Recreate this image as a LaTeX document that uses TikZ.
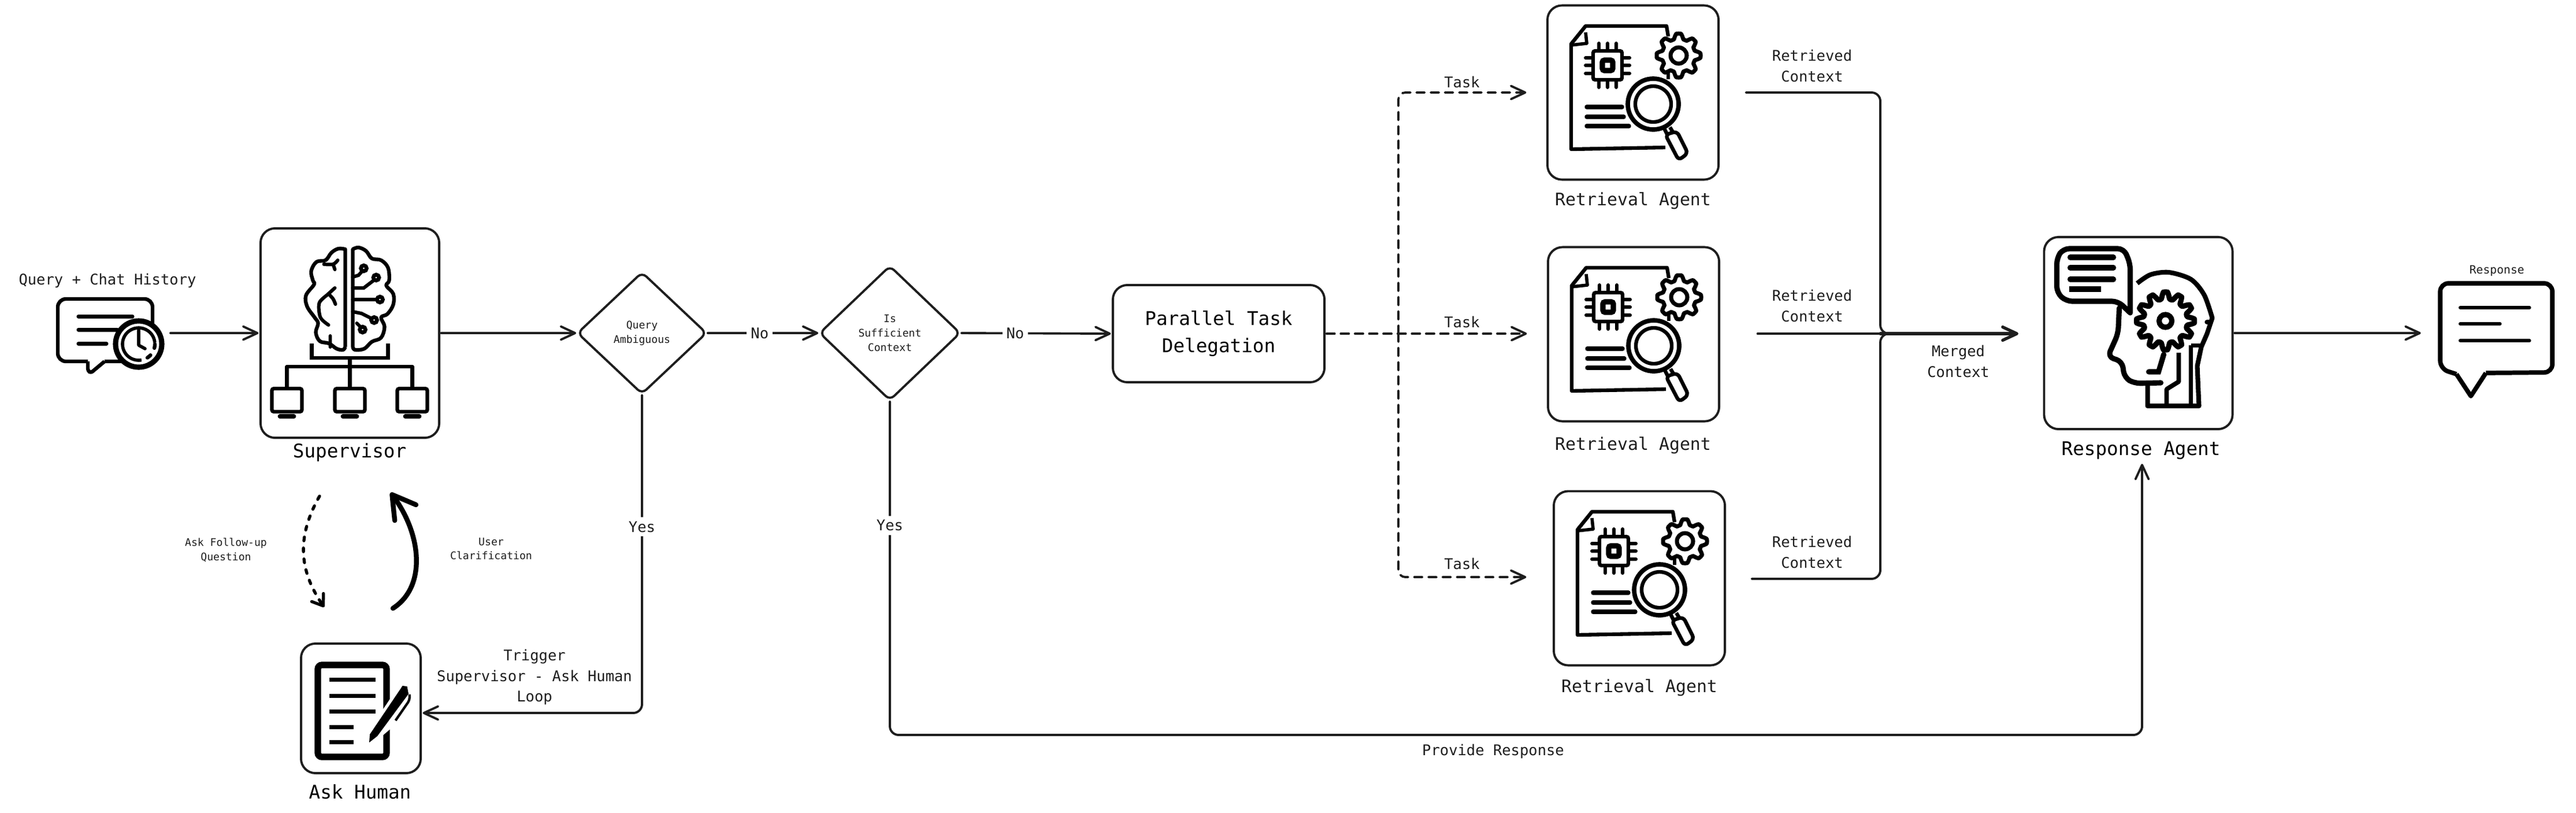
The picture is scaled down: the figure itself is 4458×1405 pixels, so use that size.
\documentclass[tikz,border=0pt]{standalone}
\usepackage{fontspec}
\setmainfont{DejaVu Sans Mono}
\usepackage{tikz}
\usetikzlibrary{arrows.meta,calc,positioning,shapes.geometric}
\usepackage{xcolor}
\definecolor{inkgray}{HTML}{1E1E1E}

\tikzset{
    iconbox/.style={draw=inkgray,line width=1.1pt,rounded corners=0.25cm,inner sep=0pt,outer sep=1pt},
    hiddenbox/.style={inner sep=0pt,outer sep=0pt},
    decision/.style={diamond,draw=inkgray,line width=1.1pt,rounded corners=0.1cm,inner sep=0pt,outer sep=0.5pt,align=center,text=inkgray,font=\fontsize{5.15}{7.1}\selectfont},
    flow/.style={draw=inkgray,line width=1.1pt,line cap=round,-{Straight Barb[round,length=7pt,width=6.5pt]}},
    taskflow/.style={flow,dash pattern=on 4pt off 3pt,rounded corners=0.12cm},
    plainline/.style={draw=inkgray,line width=1.1pt,line cap=round,rounded corners=0.15cm},
    flowlabel/.style={fill=white,inner sep=2pt,text=inkgray,font=\fontsize{7.25}{10}\selectfont},
    edgetext/.style={inner sep=0pt,align=center,text=inkgray,font=\fontsize{7.25}{10}\selectfont},
    smalltext/.style={inner sep=0pt,align=center,text=inkgray,font=\fontsize{5.15}{7.1}\selectfont},
    agentname/.style={inner sep=0pt,text=inkgray,font=\fontsize{8.5}{10}\selectfont},
    boxname/.style={inner sep=2pt,text=black,font=\fontsize{9.27}{11}\selectfont},
    pics/gearicon/.style n args={3}{code={
        \filldraw[fill=white,line join=round] plot[domain=0:360,samples=181] ({(#1)*(0.88+0.12*max(-1,min(1,1.5*cos(#2*\x))))*cos(\x)},{(#1)*(0.88+0.12*max(-1,min(1,1.5*cos(#2*\x))))*sin(\x)}) -- cycle;
        \draw (0,0) circle[radius=#3];
    }},
    pics/monitoricon/.style={code={
        \draw[line width=1.8pt,rounded corners=1pt] (-26,0) rectangle (26,40);
        \draw[line width=2.2pt,line cap=round] (-12,48) -- (12,48);
    }},
    pics/retrievalicon/.style={code={
        \draw[line width=1.8pt,line join=round] (61,-97) -- (58,-115) -- (-82,-115) -- (-107,-84) -- (-107,98) -- (56,95);
        \draw[line width=1.8pt,line join=round] (61,-37) -- (61,-23);
        \draw[line width=1.6pt,line join=round] (-82,-104) -- (-80,-85) -- (-107,-82);
        \draw[line width=1.8pt,rounded corners=1pt] (-69,-72) rectangle (-19,-22);
        \draw[line width=2.6pt,rounded corners=1pt] (-53,-56) rectangle (-35,-38);
        \draw[line width=1.7pt,line cap=round] (-59,-85) -- (-59,-72) (-44,-85) -- (-44,-72) (-29,-85) -- (-29,-72)
            (-59,-22) -- (-59,-9) (-44,-22) -- (-44,-9) (-29,-22) -- (-29,-9)
            (-82,-60) -- (-69,-60) (-82,-47) -- (-69,-47) (-82,-33) -- (-69,-33)
            (-19,-60) -- (-6,-60) (-19,-47) -- (-6,-47) (-19,-33) -- (-6,-33);
        \draw[line width=2.1pt,line cap=round] (-80,25) -- (-19,25) (-80,42) -- (-16,42) (-80,58) -- (-7,58);
        \pic[line width=2pt] at (79,-64) {gearicon={38}{8}{14}};
        \filldraw[fill=white,line width=2.2pt] (35,20) circle[radius=44];
        \draw[line width=1.8pt] (35,20) circle[radius=31];
        \draw[line width=1.8pt] (54,62) -- (60,74) (64,60) -- (70,70);
        \filldraw[fill=white,line width=1.8pt,rounded corners=2pt] (56,73) -- (76,67) -- (95,105) -- (79,117) -- cycle;
    }},
    pics/supervisoricon/.style={code={
        \draw[line width=1.8pt,line join=round] (5,24) -- (5,-145) -- plot[smooth,tension=0.6] coordinates {(5,-145) (15,-148) (28,-142) (38,-129) (54,-126) (66,-113) (68,-91) (63,-82) (75,-68) (75,-49) (65,-33) (54,-27) (60,-11) (54,8) (38,15) (25,27) (9,29) (5,24)};
        \draw[line width=1.8pt,line join=round] (-8,24) -- (-8,-145) -- plot[smooth,tension=0.6] coordinates {(-8,-145) (-20,-146) (-32,-139) (-42,-126) (-58,-123) (-67,-107) (-64,-91) (-62,-84) (-76,-65) (-74,-46) (-61,-27) (-55,-17) (-59,-1) (-52,14) (-36,18) (-23,27) (-12,29) (-8,24)};
        \draw[line width=1.7pt,line cap=round] (5,-97) -- (15,-100) -- (24,-110) (5,-78) -- (24,-78) -- (45,-94) (5,-58) -- (50,-58) (5,-37) -- (20,-34) -- (40,-24) (12,-17) -- (21,-8);
        \filldraw[fill=white,line width=1.9pt] (24,-112) circle[radius=5] (45.5,-96) circle[radius=5] (52,-58) circle[radius=5] (42,-22.5) circle[radius=5] (22,-6) circle[radius=5];
        \draw[line width=1.7pt,line cap=round,line join=round] plot[smooth] coordinates {(-45,-119) (-29,-119) (-21,-126)};
        \draw[line width=1.7pt,line cap=round,line join=round] (-29,-119) -- (-26,-110) (-34,5) -- (-34,24);
        \draw[line width=1.7pt,line cap=round,line join=round] plot[smooth] coordinates {(-26,-78) (-37,-68) (-53,-52) (-51,-27) (-37,-14)};
        \draw[line width=1.7pt,line cap=round,line join=round] plot[smooth] coordinates {(-37,-68) (-29,-59) (-25,-50)};
        \draw[line width=1.8pt,line join=miter] (-66,18) -- (-66,43) -- (66,43) -- (66,18);
        \draw[line width=1.8pt] (0,43) -- (0,96);
        \draw[line width=1.8pt,line join=round] (-109,96) -- (-109,58) -- (108,58) -- (108,96);
        \pic at (-109,96) {monitoricon};
        \pic at (0,96) {monitoricon};
        \pic at (108,96) {monitoricon};
    }},
    pics/chaticon/.style={code={
        \draw[line width=1.8pt,rounded corners=4pt,line join=round] (-9,49) -- (74,49) -- (74,-59) -- (-90,-59) -- (-90,49) -- (-38,49);
        \draw[line width=1.8pt,line join=round,rounded corners=1pt] (-38,49) -- (-38,65) -- (-33,69) -- (-9,49);
        \draw[line width=2pt,line cap=round] (-54,-29) -- (39,-29) (-54,-6) -- (13,-6) (-54,18) -- (-6,18);
        \filldraw[fill=white,line width=2.6pt] (50,19) circle[radius=40];
        \draw[line width=1.6pt] plot[domain=80:355,samples=50] ({50+28*cos(\x)},{19+28*sin(\x)});
        \draw[line width=1.8pt,line cap=round,dash pattern=on 2pt off 4pt] plot[domain=0:80,samples=20] ({50+28*cos(\x)},{19+28*sin(\x)});
        \draw[line width=1.6pt,line cap=round,line join=round] (50,-5) -- (50,21) -- (61,27);
    }},
    pics/formicon/.style={code={
        \draw[line width=3.2pt,rounded corners=2pt] (-74.5,-75) rectangle (44.5,84);
        \draw[line width=2pt] (-55,-50) -- (25,-50) (-55,-22) -- (25,-22) (-55,5) -- (25,5) (-55,32) -- (-13,32) (-55,58) -- (-13,58);
        \filldraw[white,line width=3pt,line join=round] (15.5,45) -- (69.5,-35) -- (88,-22) -- (60,21) -- (28.5,48) -- (14.5,59) -- cycle;
        \fill[black] (14.5,59) -- (15.5,45) -- (69.5,-35) -- (72,-39) -- (80,-38) -- (82.5,-25) -- (28.5,48) -- cycle;
        \draw[line width=1.2pt,rounded corners=2pt] (84,-24) -- (85.5,-16) -- (60,21);
    }},
    pics/headicon/.style={code={
        \draw[line width=2.6pt,line cap=round,line join=round,rounded corners=3pt] (-14,-35) -- (-14,-120) -- (-25,-146) -- (-130,-146) -- (-141,-130) -- (-141,-70) -- (-125,-55) -- (-35,-55) -- (-14,-35);
        \draw[line width=2.6pt,line cap=round] (-118,-131) -- (-43,-131) (-118,-113) -- (-43,-113) (-118,-93) -- (-43,-93);
        \draw[line width=2.6pt] (-120,-76) -- (-65,-76);
        \draw[line width=2.3pt,line join=round] plot[smooth] coordinates {(-2,-86) (21,-101) (53,-105) (91,-93) (114,-66) (128,-26)} -- (119,1) -- (109,24) -- (102,57) -- (105,126) -- (16,126) -- (16,89);
        \draw[line width=2.6pt,line cap=round,line join=round,rounded corners=3pt] (39,86) -- (-7,87) -- (-24,77) -- (-28,49) -- (-53,41) -- (-35,1) -- (-33,-43);
        \pic[line width=2.6pt] at (47,-21) {gearicon={50}{12}{11}};
        \draw[line width=2.4pt,line cap=round] (119,-19) -- (124,-19);
        \draw[line width=2.2pt,line join=round] (70,34) -- (70,84) -- (49,97) -- (49,126);
        \draw[line width=2pt] (91,21) -- (109,21) (91,21) -- (91,126);
        \draw[line width=2.6pt,line cap=round] (44,37) -- (35,67) -- (18,67);
    }},
    pics/replyicon/.style={code={
        \draw[line width=2.2pt,rounded corners=4pt,line join=round] (-18,69) -- (97,68) -- (97,-86) -- (-97,-86) -- (-97,62) -- (-69,71);
        \draw[line width=2.2pt,line join=round] (-69,71) -- (-44,109) -- (-18,69);
        \draw[line width=1.9pt,line cap=round] (-62,-44) -- (57,-44) (-62,-16) -- (6,-16) (-62,13) -- (57,13);
    }}
}

\begin{document}
\begin{tikzpicture}[x=0.01cm,y=-0.01cm]
    \useasboundingbox (0,0) rectangle (4458,1405);

    \node[hiddenbox,minimum width=2.1cm,minimum height=1.3cm] (chat) at (190,576) {};
    \node[iconbox,minimum width=3.09cm,minimum height=3.62cm] (supervisor) at (605.5,576) {};
    \node[iconbox,minimum width=2.07cm,minimum height=2.24cm] (askhuman) at (624.5,1225) {};
    \node[decision,minimum width=2.24cm,minimum height=2.11cm] (ambiguous) at (1111,576) {Query\\Ambiguous};
    \node[decision,minimum width=2.44cm,minimum height=2.33cm] (sufficient) at (1540,576) {Is\\Sufficient\\Context};
    \node[iconbox,minimum width=3.66cm,minimum height=1.68cm,align=center,text=black,font=\fontsize{9.27}{13.4}\selectfont] (parallel) at (2109,577) {Parallel Task\\Delegation};
    \node[iconbox,minimum width=2.96cm,minimum height=3.01cm] (retrievalA) at (2826,160) {};
    \node[iconbox,minimum width=2.96cm,minimum height=3.01cm] (retrievalB) at (2827,578) {};
    \node[iconbox,minimum width=2.96cm,minimum height=3.01cm] (retrievalC) at (2837,1000) {};
    \node[iconbox,minimum width=3.26cm,minimum height=3.32cm] (response) at (3700.5,576) {};
    \node[hiddenbox,minimum width=2.01cm,minimum height=1.58cm] (reply) at (4320,576) {};

    \pic at (chat.center) {chaticon};
    \pic at (supervisor.center) {supervisoricon};
    \pic at (askhuman.center) {formicon};
    \pic at (retrievalA.center) {retrievalicon};
    \pic at (retrievalB.center) {retrievalicon};
    \pic at (retrievalC.center) {retrievalicon};
    \pic at (response.center) {headicon};
    \pic at (reply.center) {replyicon};

    \node[edgetext] (chatlabel) at (186,485) {Query + Chat History};
    \node[boxname] (supervisorlabel) at (605,782) {Supervisor};
    \node[boxname] (asklabel) at (623,1369) {Ask Human};
    \node[agentname] (retrievalAlabel) at (2826,347) {Retrieval Agent};
    \node[agentname] (retrievalBlabel) at (2826,770) {Retrieval Agent};
    \node[agentname] (retrievalClabel) at (2837,1189) {Retrieval Agent};
    \node[boxname] (responselabel) at (3705,779) {Response Agent};
    \node[inner sep=0pt,text=inkgray,font=\fontsize{5.6}{7}\selectfont] (replylabel) at (4321,468) {Response};

    \node[smalltext] (followup) at (391,951) {Ask Follow-up\\Question};
    \node[smalltext] (clarification) at (850,949) {User\\Clarification};
    \node[edgetext] (trigger) at (925,1171) {Trigger\\Supervisor - Ask Human\\Loop};
    \node[edgetext] (taskA) at (2530,142) {Task};
    \node[edgetext] (taskB) at (2530,557) {Task};
    \node[edgetext] (taskC) at (2530,975) {Task};
    \node[edgetext] (contextA) at (3136,114) {Retrieved\\Context};
    \node[edgetext] (contextB) at (3136,529) {Retrieved\\Context};
    \node[edgetext] (contextC) at (3136,955) {Retrieved\\Context};
    \node[edgetext] (merged) at (3389,625) {Merged\\Context};
    \node[edgetext] (provide) at (2584,1299) {Provide Response};

    \coordinate (fork) at (2420,577);
    \coordinate (merge) at (3254,577);
    \coordinate (mergeout) at (3290,577);
    \coordinate (mergetip) at (3493,577);
    \coordinate (responsebend) at (3707,1271);
    \coordinate (followstart) at (553,858);
    \coordinate (followend) at (561,1050);
    \coordinate (clarifystart) at (680,1052);
    \coordinate (clarifyend) at (676,852);

    \draw[flow] (chat.east) -- (supervisor.west);
    \draw[flow] (supervisor.east) -- (ambiguous.west);
    \draw[flow] (ambiguous.east) -- node[flowlabel,pos=0.47] (noA) {No} (sufficient.west);
    \draw[flow] (sufficient.east) -- node[flowlabel,pos=0.36] (noB) {No} (parallel.west);
    \draw[flow,rounded corners=0.15cm] (ambiguous.south) -- node[flowlabel,pos=0.414] (yesA) {Yes} (ambiguous.south |- 0,1233) -- ($(askhuman.east)+(0,8)$);
    \draw[flow,rounded corners=0.15cm] (sufficient.south) -- node[flowlabel,pos=0.372] (yesB) {Yes} (sufficient.south |- responsebend) -- (responsebend) -- (responsebend |- responselabel.south);

    \draw[taskflow] (parallel.east) -- (fork) -- ($(retrievalB.west)+(-33,-1)$);
    \draw[taskflow] (fork) |- ($(retrievalA.west)+(-33,0)$);
    \draw[taskflow] (fork) |- ($(retrievalC.west)+(-44,-2)$);

    \draw[plainline] ($(retrievalA.east)+(44,0)$) -| (merge) -- (mergeout);
    \draw[plainline] ($(retrievalB.east)+(63,-1)$) -- (mergeout);
    \draw[plainline] ($(retrievalC.east)+(43,1)$) -| (merge) -- (mergeout);
    \draw[flow,line width=1.5pt] (merge) -- (mergetip);
    \draw[flow,shorten >=0.3cm] (response.east) -- (reply.west);

    \draw[flow,draw=black,line width=1.5pt,dash pattern=on 1.8pt off 3.6pt,-{Straight Barb[round,length=5pt,width=7pt]}] (followstart) .. controls (515,925) and (515,983) .. (followend);
    \draw[flow,draw=black,line width=2.4pt,-{Straight Barb[round,length=11pt,width=13pt]}] (clarifystart) .. controls (738,1015) and (730,925) .. (clarifyend);
\end{tikzpicture}
\end{document}
